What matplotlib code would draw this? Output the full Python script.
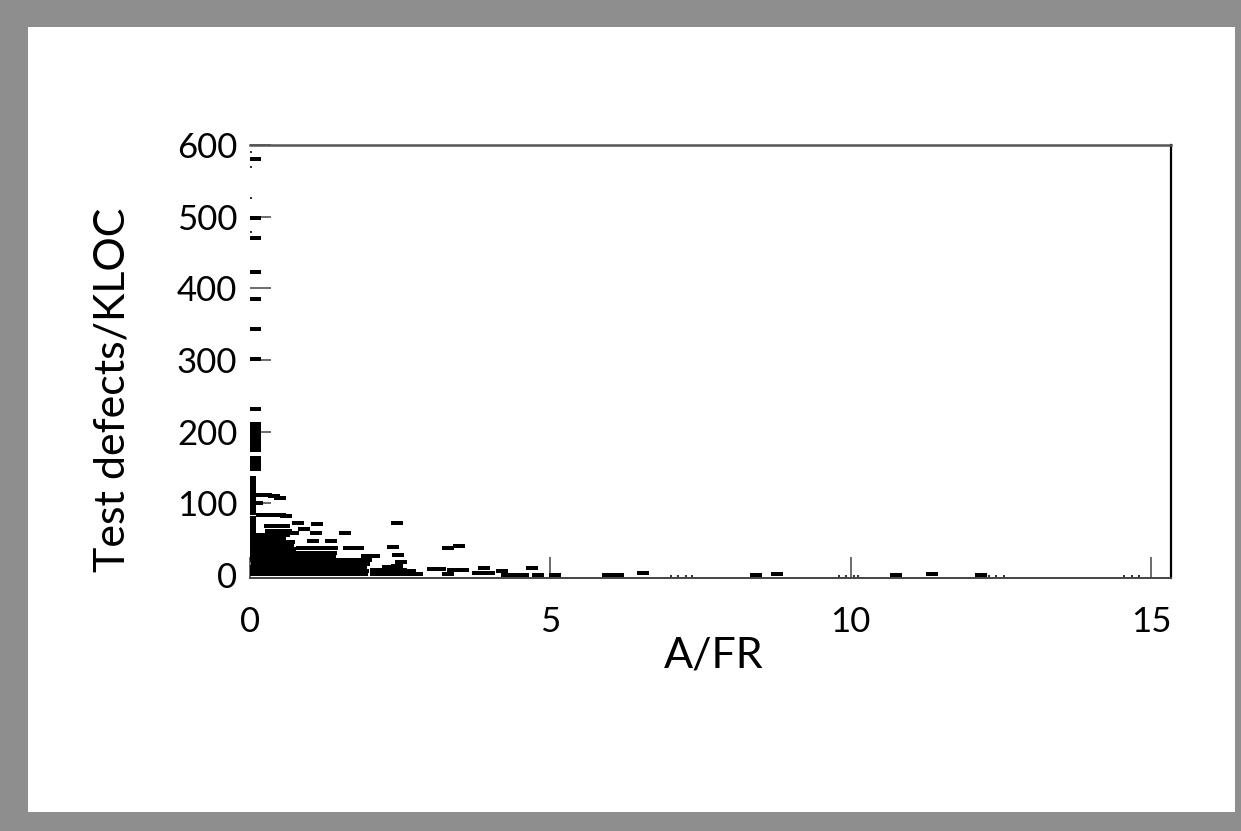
import matplotlib

matplotlib.use("Agg")
import matplotlib.pyplot as plt  # noqa: E402
from matplotlib.patches import Rectangle  # noqa: E402
from matplotlib.path import Path  # noqa: E402

# points hugging the y axis (A/FR close to zero)
spike_afr = [0.0] * 17 + [0.08] * 20
spike_defects = [55, 60, 66, 71, 76, 80, 86, 91, 95, 101, 106, 110, 116, 121, 125, 131, 136,
                 148, 153, 158, 163, 175, 180, 185, 190, 195, 200, 205, 210,
                 231, 301, 343, 385, 423, 470, 498, 580]

# dense cluster, A/FR below 2
core_afr = [
    0.08, 0.21, 0.35, 0.48, 0.62, 0.76, 0.90, 1.03, 1.17, 1.31, 1.44, 1.58, 1.72, 1.86,
    0.10, 0.24, 0.37, 0.51, 0.65, 0.78, 0.92, 1.06, 1.20, 1.33, 1.47, 1.61, 1.75, 1.88,
    0.07, 0.20, 0.34, 0.47, 0.61, 0.75, 0.88, 1.02, 1.16, 1.30, 1.43, 1.57, 1.70, 1.84,
    0.11, 0.25, 0.38, 0.52, 0.66, 0.80, 0.93, 1.07, 1.21, 1.35, 1.49, 1.60, 1.74, 1.90,
    0.08, 0.22, 0.36, 0.49, 0.63, 0.77, 0.91, 1.05, 1.18, 1.32, 1.46, 1.62, 1.80, 1.93,
    0.09, 0.23, 0.37, 0.50, 0.64, 0.78, 0.92, 1.06, 1.19, 1.33, 1.95, 2.06,
    0.07, 0.21, 0.35, 0.48, 0.62, 0.76, 0.90, 1.04, 1.18, 1.34,
    0.10, 0.24, 0.38, 0.52, 0.66, 0.86, 1.02, 1.18, 1.36, 1.64, 1.80,
    0.08, 0.21, 0.35, 0.49, 0.63,
    0.10, 0.24, 0.38, 0.52, 0.65, 1.05, 1.35,
    0.08, 0.22, 0.36, 0.50,
    0.10, 0.30, 0.45, 0.57, 0.72, 1.10,
    1.58,
    0.35, 0.50, 0.60, 0.90,
    0.33, 0.47, 0.57,
    0.80, 1.12, 2.45,
    0.20, 0.35, 0.50, 0.60,
    0.12,
    0.12, 0.26, 0.40, 0.50,
]
core_defects = [
    1, 1, 1, 1, 1, 1, 1, 1, 1, 1, 1, 1, 1, 1,
    6, 6, 6, 6, 6, 6, 6, 6, 6, 6, 6, 6, 6, 6,
    11, 11, 11, 11, 11, 11, 11, 11, 11, 11, 11, 11, 11, 11,
    16, 16, 16, 16, 16, 16, 16, 16, 16, 16, 16, 16, 16, 16,
    21, 21, 21, 21, 21, 21, 21, 21, 21, 21, 21, 21, 21, 21,
    26, 26, 26, 26, 26, 26, 26, 26, 26, 26, 27, 27,
    31, 31, 31, 31, 31, 31, 31, 31, 31, 31,
    36, 36, 36, 36, 36, 38, 38, 38, 38, 37, 37,
    41, 41, 41, 41, 41,
    46, 46, 46, 46, 46, 47, 47,
    51, 51, 51, 51,
    56, 56, 56, 56, 58, 58,
    59,
    62, 62, 62, 64,
    68, 68, 68,
    72, 71, 72,
    84, 84, 84, 82,
    100,
    112, 112, 110, 108,
]

# long tail, A/FR of 2 and more
tail_afr = [2.10, 2.24, 2.38, 2.52, 2.66, 2.78, 2.10, 2.24, 2.38, 2.52, 2.66,
            2.30, 2.44, 2.52, 2.47, 2.38,
            3.05, 3.17, 3.38, 3.55, 3.30, 3.80, 3.90, 3.97, 4.20, 4.27, 4.42,
            4.54, 4.70, 4.80, 5.08, 3.30, 3.48,
            5.96, 6.12, 6.54, 8.43, 8.78, 10.76, 11.36, 12.16]
tail_defects = [1, 1, 1, 1, 1, 1, 7, 7, 7, 7, 6,
                11, 12, 18, 28, 39,
                9, 9, 7, 7, 1, 3, 10, 3, 5, 0, 0,
                0, 10, 0, 0, 38, 41,
                0, 0, 3, 0, 1, 0, 1, 0]

# faint specks left by the print
speck_afr = [7.00, 7.12, 7.25, 7.35, 9.80, 9.92, 10.05, 10.12, 12.30, 12.42, 12.55,
             14.55, 14.68, 14.80, 0.02, 0.02, 0.02, 0.02]
speck_defects = [-1, -1, -1, -1, -1, -1, -1, -1, -1, -1, -1,
                 -1, -1, -1, 590, 569, 526, 478]

plt.rcParams["font.family"] = ["Lato", "DejaVu Sans"]

fig = plt.figure(figsize=(12.41, 8.31), dpi=100)
W, H = 1241, 831
fig.patches.append(Rectangle((0, 0), 1, 1, transform=fig.transFigure,
                             facecolor="#8e8e8e", edgecolor="none", zorder=-2))
fig.patches.append(Rectangle((28 / W, 19 / H), 1207 / W, 785 / H, transform=fig.transFigure,
                             facecolor="white", edgecolor="none", zorder=-1))

ax = fig.add_axes([250 / W, 253 / H, 921 / W, 433 / H])
ax.set_facecolor("white")

dash = Path([(-0.5, -0.18), (0.5, -0.18), (0.5, 0.18), (-0.5, 0.18), (-0.5, -0.18)],
            [Path.MOVETO, Path.LINETO, Path.LINETO, Path.LINETO, Path.CLOSEPOLY])
for xs, ys in [(spike_afr, spike_defects), (core_afr, core_defects), (tail_afr, tail_defects)]:
    ax.plot(xs, ys, ls="none", marker=dash, ms=8, mew=0, color="k")
ax.plot(speck_afr, speck_defects, ls="none", marker="s", ms=1.5, mew=0, color="#333333")

ax.set_xlim(0, 15.33)
ax.set_ylim(-4.2, 600)
ax.set_xticks([0, 5, 10, 15])
ax.set_yticks([0, 100, 200, 300, 400, 500, 600])

ax.spines["left"].set_visible(False)
ax.spines["top"].set_color("#555555")
ax.spines["top"].set_linewidth(1.8)
ax.spines["right"].set_color("black")
ax.spines["right"].set_linewidth(1.6)
ax.spines["bottom"].set_color("#444444")
ax.spines["bottom"].set_linewidth(1.4)

ax.tick_params(direction="in", length=15, width=1.1, color="#444444", labelsize=25,
               labelcolor="black")
ax.tick_params(axis="x", pad=20)
ax.tick_params(axis="y", pad=9)

ax.set_xlabel("A/FR", fontsize=31, va="center")
ax.xaxis.set_label_coords(0.503, -0.18)
ax.set_ylabel("Test defects/KLOC", fontsize=31, va="center")
ax.yaxis.set_label_coords(-0.149, 0.434)

fig.savefig("out.png", dpi=100)
